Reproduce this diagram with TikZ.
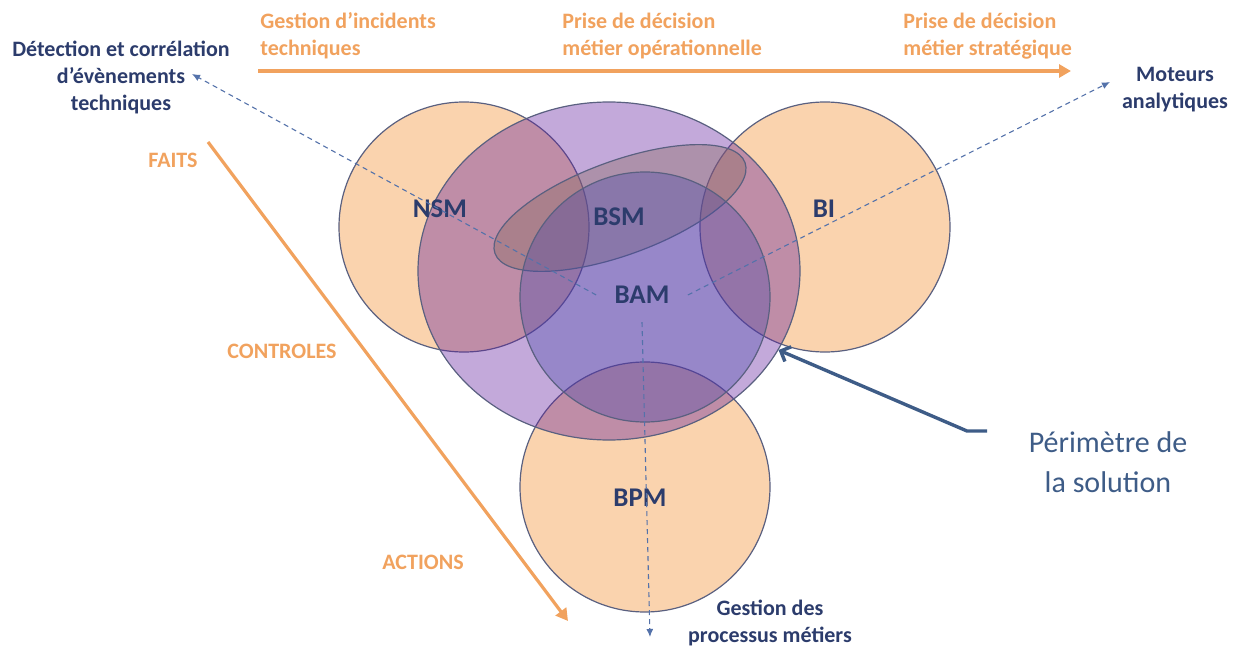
\documentclass[tikz,border=0pt]{standalone}
\usepackage{fontspec}
\setmainfont{Carlito}
\usetikzlibrary{arrows.meta,shapes.geometric}
\definecolor{peach}{RGB}{250,211,174}
\definecolor{grape}{RGB}{97,29,158}
\definecolor{bamblue}{RGB}{70,70,170}
\definecolor{bsmgrey}{RGB}{140,110,100}
\definecolor{rim}{RGB}{90,96,128}
\definecolor{tangerine}{RGB}{241,162,94}
\definecolor{navy}{RGB}{44,60,108}
\definecolor{dashblue}{RGB}{84,114,170}
\definecolor{calloutblue}{RGB}{62,92,135}
\tikzset{
	venn/.style={circle,draw=rim,line width=0.6pt,minimum size=125pt,inner sep=0pt},
	tag/.style={font=\fontsize{13.5}{16}\selectfont\bfseries,text=navy},
	topic/.style={font=\fontsize{11}{13.5}\selectfont\bfseries,text=tangerine,align=left,inner sep=0pt},
	goal/.style={font=\fontsize{11}{13.5}\selectfont\bfseries,text=navy,align=center,inner sep=0pt},
	flow/.style={draw=tangerine,line width=1.6pt,-{Triangle[length=6pt,width=6.5pt]}},
	link/.style={draw=dashblue,line width=0.55pt,dash pattern=on 2.5pt off 2pt,-{Latex[length=4pt,width=3.5pt]}},
	pointer/.style={draw=calloutblue,line width=1.7pt,-{Straight Barb[length=4pt,width=8pt]}}
}
\begin{document}
\begin{tikzpicture}[x=0.5pt,y=-0.5pt]
	\useasboundingbox (0,0) rectangle (1244,647);
	% the three outer domains
	\node[venn,fill=peach] (nsm) at (464,227) {};
	\node[venn,fill=peach] (bi) at (825,227) {};
	\node[venn,fill=peach] (bpm) at (645,487) {};
	% solution perimeter, BSM and BAM on top
	\node[ellipse,draw=rim,line width=0.6pt,fill=grape,fill opacity=0.38,minimum width=191pt,minimum height=169pt,inner sep=0pt] (sol) at (609,271) {};
	\node[ellipse,draw=rim,line width=0.6pt,fill=bsmgrey,fill opacity=0.4,minimum width=133pt,minimum height=47pt,inner sep=0pt,rotate=20] (bsm) at (620,208) {};
	\node[venn,fill=bamblue,fill opacity=0.35] (bamring) at (645,297) {};

	\node[tag] (nsmtxt) at (440,209) {NSM};
	\node[tag] (bsmtxt) at (619,217) {BSM};
	\node[tag,inner sep=9pt] (bam) at (642,295) {BAM};
	\node[tag] (bitxt) at (824,209) {BI};
	\node[tag] (bpmtxt) at (640,498) {BPM};

	\node[topic,anchor=west] (incid) at (260,36) {Gestion d’incidents\\techniques};
	\node[topic,anchor=west] (oper) at (562,36) {Prise de décision\\métier opérationnelle};
	\node[topic,anchor=west] (strat) at (903,36) {Prise de décision\\métier stratégique};
	\node[topic] (faits) at (173,160) {FAITS};
	\node[topic] (ctrl) at (282,351) {CONTROLES};
	\node[topic] (acts) at (423,562) {ACTIONS};

	\node[goal] (detect) at (121,77) {Détection et corrélation\\d’évènements\\techniques};
	\node[goal] (motor) at (1175,90) {Moteurs\\analytiques};
	\node[goal] (process) at (770,623) {Gestion des\\processus métiers};
	\node[font=\fontsize{15}{20}\selectfont,text=calloutblue,align=center] (perim) at (1108,462) {Périmètre de\\la solution};

	% axes
	\coordinate (timeA) at (258,71); \coordinate (timeB) at (1071,71);
	\coordinate (stepA) at (208,142); \coordinate (stepB) at (568,621);
	\draw[flow] (timeA) -- (timeB);
	\draw[flow] (stepA) -- (stepB);

	% dashed links out of BAM
	\coordinate (tipdet) at (192,74);
	\coordinate (tipmot) at (1110,82);
	\coordinate (tipproc) at (650,637);
	\draw[link] (bam.west) -- (tipdet);
	\draw[link] (bam.east) -- (tipmot);
	\draw[link] (bam.south) -- (tipproc);

	% callout
	\coordinate (hook) at (987,431); \coordinate (knee) at (967,431);
	\draw[pointer] (hook) -- (knee) -- (sol.-25);
\end{tikzpicture}
\end{document}
